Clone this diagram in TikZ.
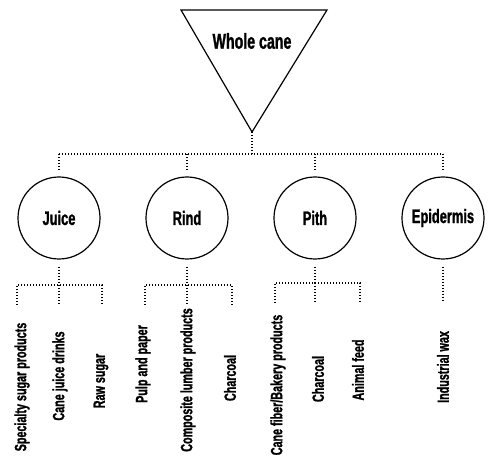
\documentclass[tikz,border=0pt]{standalone}
\usepackage{fontspec}
\setmainfont[FakeStretch=0.66,BoldFeatures={FakeBold=1.2}]{Liberation Sans}
\begin{document}
\begin{tikzpicture}[x=1pt,y=-1pt,
  dotline/.style={line width=1.1pt,dash pattern=on 1pt off 2pt},
  part/.style={draw,circle,line width=1.2pt,minimum size=82pt,inner sep=0pt,font=\fontsize{19.5}{21}\selectfont\bfseries},
  prod/.style={rotate=90,inner sep=0pt,font=\fontsize{16.3}{18}\selectfont\bfseries}]
\useasboundingbox (0,0) rectangle (493,462);
% whole cane triangle
\coordinate (tl) at (181,10);
\coordinate (tr) at (327,10);
\coordinate (apex) at (252,132);
\draw[line width=1.2pt,line join=miter] (tl) -- (tr) -- (apex) -- cycle;
\node[inner sep=0pt,font=\fontsize{21.5}{23}\selectfont\bfseries] (whole) at (252,41) {Whole cane};
% parts
\node[part] (juice) at (59,218) {Juice};
\node[part] (rind) at (187,218) {Rind};
\node[part] (pith) at (315,218) {Pith};
\node[part] (epi) at (443,218) {Epidermis};
% top connectors
\coordinate (hub) at (252,154);
\coordinate (hubL) at (59,154);
\coordinate (hubR) at (443,154);
\draw[dotline] (apex) -- (hub);
\draw[dotline] (hubL) -- (hubR);
\foreach \n in {juice,rind,pith,epi}{
  \draw[dotline,shorten >=6pt] (hub -| \n) -- (\n.north);
}
% juice branch
\coordinate (jbar) at (59,285);
\coordinate (jL) at (17,285);
\coordinate (jR) at (102,285);
\coordinate (j1) at (17,305);
\coordinate (j2) at (59,305);
\coordinate (j3) at (102,305);
\draw[dotline,shorten <=7pt] (juice.south) -- (jbar);
\draw[dotline] (j1) -- (jL) -- (jR) -- (j3);
\draw[dotline] (jbar) -- (j2);
% rind branch
\coordinate (rbar) at (187,285);
\coordinate (rL) at (145,285);
\coordinate (rR) at (232,285);
\coordinate (r1) at (145,305);
\coordinate (r2) at (187,305);
\coordinate (r3) at (232,305);
\draw[dotline,shorten <=7pt] (rind.south) -- (rbar);
\draw[dotline] (r1) -- (rL) -- (rR) -- (r3);
\draw[dotline] (rbar) -- (r2);
% pith branch
\coordinate (pbar) at (315,283);
\coordinate (pL) at (275,283);
\coordinate (pR) at (360,283);
\coordinate (p1) at (275,303);
\coordinate (p2) at (315,303);
\coordinate (p3) at (360,303);
\draw[dotline,shorten <=7pt] (pith.south) -- (pbar);
\draw[dotline] (p1) -- (pL) -- (pR) -- (p3);
\draw[dotline] (pbar) -- (p2);
% epidermis branch
\coordinate (e1) at (443,302);
\draw[dotline,shorten <=7pt] (epi.south) -- (e1);
% products
\node[prod] (ssp) at (22,387) {Specialty sugar products};
\node[prod] (cjd) at (60,376) {Cane juice drinks};
\node[prod] (raw) at (101,381) {Raw sugar};
\node[prod] (pulp) at (143,364) {Pulp and paper};
\node[prod] (clp) at (188,380) {Composite lumber products};
\node[prod] (char1) at (230,378) {Charcoal};
\node[prod] (cfb) at (278,385) {Cane fiber/Bakery products};
\node[prod] (char2) at (318,379) {Charcoal};
\node[prod] (feed) at (358,370) {Animal feed};
\node[prod] (wax) at (443,367) {Industrial wax};
\end{tikzpicture}
\end{document}
